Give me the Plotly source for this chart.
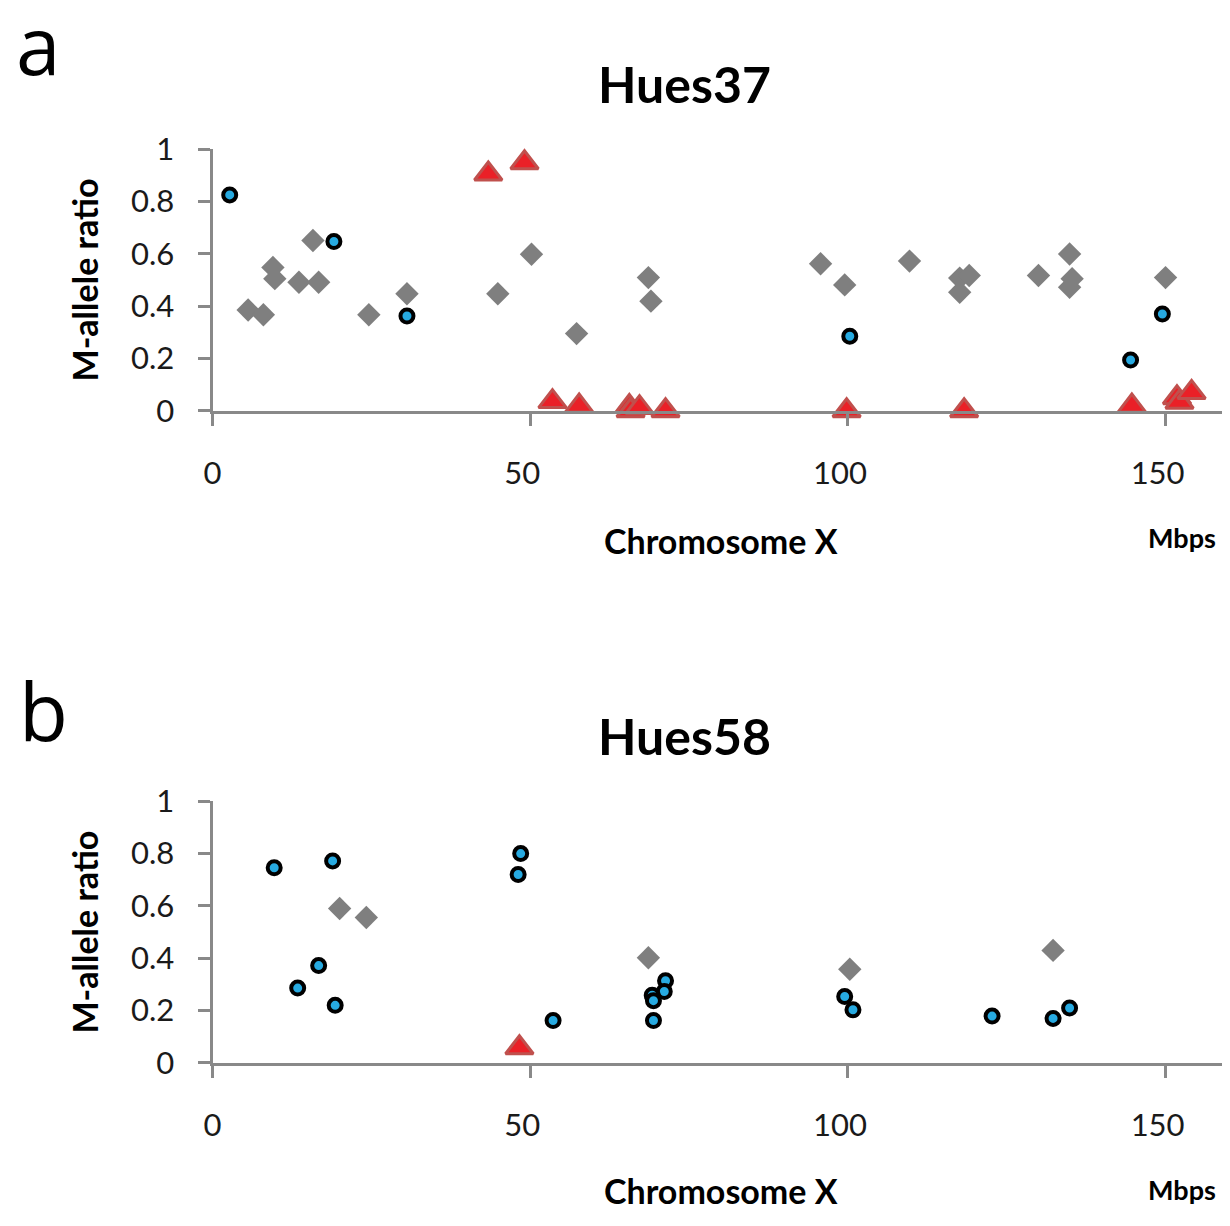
import plotly.graph_objects as go

# ---- Hues37 (panel a) ----
circ37_x = [2.7, 19.1, 30.6, 100.3, 144.5, 149.5]
circ37_y = [0.825, 0.647, 0.362, 0.285, 0.194, 0.370]
diam37_x = [5.6, 8.0, 9.5, 9.8, 13.6, 15.8, 16.7, 24.6, 30.6, 44.9, 50.2, 57.3, 68.6, 69.0,
            95.7, 99.5, 109.7, 117.6, 119.1, 117.6, 130.0, 134.9, 135.3, 134.9, 150.0]
diam37_y = [0.385, 0.367, 0.548, 0.505, 0.491, 0.651, 0.491, 0.367, 0.447, 0.447, 0.598, 0.295, 0.509, 0.419,
            0.562, 0.481, 0.572, 0.507, 0.517, 0.453, 0.517, 0.599, 0.505, 0.472, 0.509]
tri37_x = [43.4, 49.1, 53.5, 57.7, 65.6, 65.8, 67.2, 71.3, 99.8, 118.3, 144.7, 151.8, 152.2, 154.1]
tri37_y = [0.905, 0.948, 0.035, 0.018, 0.016, 0.0, 0.012, 0.0, 0.0, 0.0, 0.018, 0.05, 0.033, 0.07]

# ---- Hues58 (panel b) ----
circ58_x = [9.7, 18.9, 16.7, 13.4, 19.3, 48.5, 48.1, 53.6, 71.3, 71.1, 69.2, 69.4, 69.4,
            99.5, 100.8, 122.7, 132.3, 134.9]
circ58_y = [0.746, 0.772, 0.372, 0.286, 0.220, 0.800, 0.720, 0.162, 0.314, 0.273, 0.259, 0.238, 0.162,
            0.254, 0.203, 0.179, 0.170, 0.210]
diam58_x = [20.0, 24.2, 68.6, 100.3, 132.3]
diam58_y = [0.590, 0.556, 0.402, 0.358, 0.430]
tri58_x = [48.3]
tri58_y = [0.058]

x_ticks = [0, 50, 100, 150]
x_ticklabels = ["0", "50", "100", "150"]
y_ticks = [0, 0.2, 0.4, 0.6, 0.8, 1]
y_ticklabels = ["0", "0.2", "0.4", "0.6", "0.8", "1"]

W, H = 1230, 1226
OFF = 8  # compensates the page's default body margin
FONT = "Lato"
AX = "#898989"
GRAY = "#7f7f7f"
BLUE = "#27aae1"
RED = "#ea2027"
RED_LINE = "#c0504d"


def px(x):
    return (x - OFF) / W


def py(y):
    return 1 - (y - OFF) / H


fig = go.Figure()


def add_panel(xa, ya, dx, dy, cx, cy, tx, ty):
    fig.add_trace(go.Scatter(x=dx, y=dy, mode="markers", xaxis=xa, yaxis=ya, cliponaxis=False,
                             marker=dict(symbol="diamond", size=18, color=GRAY, line=dict(width=0))))
    fig.add_trace(go.Scatter(x=cx, y=cy, mode="markers", xaxis=xa, yaxis=ya, cliponaxis=False,
                             marker=dict(symbol="circle", size=13, color=BLUE,
                                         line=dict(width=4, color="black"))))
    fig.add_trace(go.Scatter(x=tx, y=ty, mode="markers", xaxis=xa, yaxis=ya, cliponaxis=False,
                             marker=dict(symbol="triangle-up", size=24, color=RED,
                                         line=dict(width=3, color=RED_LINE))))


add_panel("x", "y", diam37_x, diam37_y, circ37_x, circ37_y, tri37_x, tri37_y)
add_panel("x2", "y2", diam58_x, diam58_y, circ58_x, circ58_y, tri58_x, tri58_y)

xlab = [t if t == "0" else t + "\u00a0\u00a0" for t in x_ticklabels]
xaxis_common = dict(range=[0, 160], tickvals=x_ticks, ticktext=xlab, ticks="outside", ticklen=12,
                    tickwidth=3, tickcolor=AX, showline=True, linecolor=AX, linewidth=3,
                    showgrid=False, zeroline=False,
                    tickfont=dict(family=FONT, size=31, color="#1a1a1a"),
                    ticklabelstandoff=21, fixedrange=True)
yaxis_common = dict(range=[0, 1], tickvals=y_ticks, ticktext=y_ticklabels, ticks="outside",
                    ticklen=12, tickwidth=3, tickcolor=AX, showline=True, linecolor=AX, linewidth=3,
                    showgrid=False, zeroline=False,
                    tickfont=dict(family=FONT, size=31, color="#1a1a1a"),
                    ticklabelstandoff=17, fixedrange=True)

fig.update_layout(
    width=W, height=H, margin=dict(l=0, r=0, t=0, b=0),
    paper_bgcolor="white", plot_bgcolor="white", showlegend=False,
    xaxis=dict(domain=[px(205), px(1229)], anchor="y", **xaxis_common),
    yaxis=dict(domain=[py(403), py(133)], anchor="x", **yaxis_common),
    xaxis2=dict(domain=[px(205), px(1229)], anchor="y2", **xaxis_common),
    yaxis2=dict(domain=[py(1076), py(806)], anchor="x2", **yaxis_common),
)


def ann(text, x, y, size, bold=True, angle=0, family=FONT):
    t = f"<b>{text}</b>" if bold else text
    fig.add_annotation(text=t, x=px(x), y=py(y), xref="paper", yref="paper",
                       xanchor="center", yanchor="middle", showarrow=False, textangle=angle,
                       font=dict(family=family, size=size, color="black"))


# panel a
ann("a", 29, 24, 80, bold=False, family="Open Sans")
ann("Hues37", 680, 66, 50)
ann("M-allele ratio", 76, 268, 34, angle=-90)
ann("Chromosome X", 717, 537, 34)
ann("Mbps", 1182, 534, 27)
# panel b
ann("b", 35, 711, 80, bold=False, family="Open Sans")
ann("Hues58", 680, 739, 50)
ann("M-allele ratio", 76, 941, 34, angle=-90)
ann("Chromosome X", 717, 1208, 34)
ann("Mbps", 1182, 1207, 27)

fig.write_html("out.html")
